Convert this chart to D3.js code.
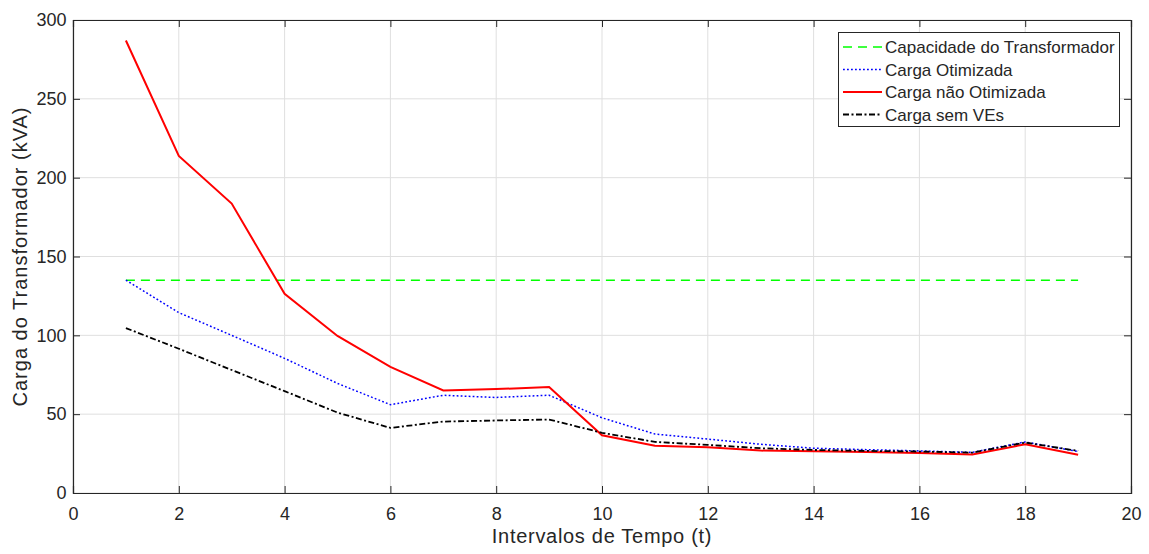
<!DOCTYPE html>
<html><head><meta charset="utf-8">
<script src="https://cdn.jsdelivr.net/npm/d3@7"></script>
<style>body{margin:0;background:#fff;} svg{display:block;font-family:"Liberation Sans",Arial,Helvetica,sans-serif;}</style>
</head><body><svg id="c" width="1149" height="554"></svg>
<script>
const intervals = [1,2,3,4,5,6,7,8,9,10,11,12,13,14,15,16,17,18,19];
const capacidade = [135,135,135,135,135,135,135,135,135,135,135,135,135,135,135,135,135,135,135];
const otimizada = [135,114.4,100,85.4,69.5,56,62,60.6,62,47.7,37.4,34.2,30.9,28.4,27.5,26.7,25.8,32.4,26.3];
const naoOtimizada = [287,213.8,183.6,126.3,99.6,80,65,65.9,67.2,36.6,30,29,26.9,26.5,26,25.4,24.4,30.9,24.2];
const semVEs = [104.6,91.5,78,64.6,51,41.3,45.3,46,46.6,38.2,32.4,30.5,28.4,27.3,26.7,26.3,25.6,32,26.7];
const xTicks = [0,2,4,6,8,10,12,14,16,18,20];
const yTicks = [0,50,100,150,200,250,300];
const seriesNames = ["Capacidade do Transformador","Carga Otimizada","Carga não Otimizada","Carga sem VEs"];

const series = [
  {name: seriesNames[0], values: capacidade, color: "#00ff00", width: 1.5, dash: "9,6"},
  {name: seriesNames[1], values: otimizada, color: "#0000ff", width: 1.5, dash: "1.8,2.2"},
  {name: seriesNames[2], values: naoOtimizada, color: "#ff0000", width: 2, dash: null},
  {name: seriesNames[3], values: semVEs, color: "#000000", width: 1.8, dash: "6,2.5,2,2.5"}
];

const svg = d3.select("#c");
const L = 73, R = 1131, T = 20, B = 493;
const x = d3.scaleLinear().domain([0,20]).range([L,R]);
const y = d3.scaleLinear().domain([0,300]).range([B,T]);
const axisColor = "#262626";

// grid
const g = svg.append("g");
g.selectAll(".gx").data(xTicks).join("line")
  .attr("x1", d=>x(d)).attr("x2", d=>x(d)).attr("y1", T).attr("y2", B)
  .attr("stroke", "#dfdfdf").attr("stroke-width", 1);
g.selectAll(".gy").data(yTicks).join("line")
  .attr("y1", d=>y(d)).attr("y2", d=>y(d)).attr("x1", L).attr("x2", R)
  .attr("stroke", "#dfdfdf").attr("stroke-width", 1);

// lines
const line = d3.line().x((d,i)=>x(intervals[i])).y(d=>y(d));
series.forEach(s=>{
  svg.append("path").datum(s.values)
    .attr("d", line).attr("fill","none")
    .attr("stroke", s.color).attr("stroke-width", s.width)
    .attr("stroke-dasharray", s.dash);
});

// axes
const xAxis = d3.axisBottom(x).tickValues(xTicks).tickSize(-7).tickPadding(14).tickFormat(d3.format("d"));
const yAxis = d3.axisLeft(y).tickValues(yTicks).tickSize(-7).tickPadding(6.5).tickFormat(d3.format("d"));
const xa = svg.append("g").attr("transform",`translate(0,${B})`).call(xAxis);
const ya = svg.append("g").attr("transform",`translate(${L},0)`).call(yAxis);
const xt = svg.append("g").attr("transform",`translate(0,${T})`).call(d3.axisTop(x).tickValues(xTicks).tickSize(-7).tickFormat(""));
const yr = svg.append("g").attr("transform",`translate(${R},0)`).call(d3.axisRight(y).tickValues(yTicks).tickSize(-7).tickFormat(""));
[xa,ya,xt,yr].forEach(a=>{
  a.selectAll("path").attr("stroke", axisColor).attr("stroke-width",1.2);
  a.selectAll("line").attr("stroke", axisColor);
  a.selectAll("text").attr("fill", axisColor).style("font-size","18px").style("font-family",'"Liberation Sans",Arial,sans-serif');
});

// axis labels
svg.append("text").attr("x", (L+R)/2).attr("y", 542.5).attr("text-anchor","middle")
  .attr("fill", axisColor).style("font-size","20px").style("letter-spacing","0.7px").text("Intervalos de Tempo (t)");
svg.append("text").attr("transform",`translate(27,${(T+B)/2}) rotate(-90)`).attr("text-anchor","middle")
  .attr("fill", axisColor).style("font-size","20px").style("letter-spacing","1px").text("Carga do Transformador (kVA)");

// legend
const lg = svg.append("g");
lg.append("rect").attr("x",838.5).attr("y",32.5).attr("width",281).attr("height",94)
  .attr("fill","#fff").attr("stroke",axisColor).attr("stroke-width",1);
series.forEach((s,i)=>{
  const yy = 47 + i*22.5;
  lg.append("line").attr("x1",843).attr("x2",882).attr("y1",yy).attr("y2",yy)
    .attr("stroke",s.color).attr("stroke-width",s.width).attr("stroke-dasharray",s.dash);
  lg.append("text").attr("x",885).attr("y",yy).attr("dy","0.36em")
    .attr("fill",axisColor).style("font-size","17px").text(s.name);
});
</script></body></html>
